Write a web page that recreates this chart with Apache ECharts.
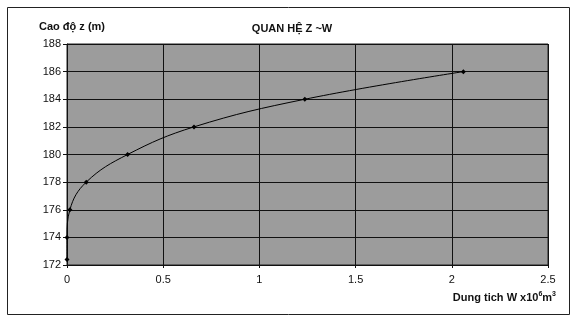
<!DOCTYPE html>
<html>
<head>
<meta charset="utf-8">
<script src="https://cdn.jsdelivr.net/npm/echarts@6/dist/echarts.min.js"></script>
<style>
  html, body { margin: 0; padding: 0; background: #fff; }
  #main { width: 575px; height: 323px; }
</style>
</head>
<body>
<div id="main"></div>
<script>
var myChart = echarts.init(document.getElementById('main'));

// dung tich W (x10^6 m3) va cao do z (m)
var volume = [0, 0, 0.015, 0.1, 0.315, 0.66, 1.236, 2.06];
var level = [172.4, 174, 176, 178, 180, 182, 184, 186];

var points = volume.map(function (w, i) { return [w, level[i]]; });

var option = {
    animation: false,
    backgroundColor: '#fff',
    textStyle: { fontFamily: 'Liberation Sans, Arial, sans-serif' },
    title: {
        text: 'QUAN HỆ Z ~W',
        left: 287,
        top: 18,
        textAlign: 'center',
        textStyle: { fontSize: 11, fontWeight: 'bold', color: '#111' }
    },
    graphic: [{
        type: 'rect',
        shape: { x: 7.5, y: 7.5, width: 562, height: 307 },
        style: { fill: 'none', stroke: '#222', lineWidth: 1 },
        silent: true
    }],
    grid: {
        left: 67, right: 27, top: 44, bottom: 58,
        show: true,
        backgroundColor: '#9c9c9c',
        borderColor: '#222',
        borderWidth: 1
    },
    xAxis: {
        type: 'value',
        min: 0, max: 2.5, interval: 0.5,
        name: '{a|Dung tich W x10}{s|6}{a|m}{s|3}',
        nameLocation: 'end',
        nameGap: 0,
        nameTextStyle: {
            align: 'right',
            verticalAlign: 'top',
            padding: [26, -8, 0, 0],
            rich: {
                a: { fontSize: 11, fontWeight: 'bold', color: '#111' },
                s: { fontSize: 7, fontWeight: 'bold', color: '#111', verticalAlign: 'top', padding: [0, 0, 6, 0] }
            }
        },
        axisLine: { lineStyle: { color: '#111' } },
        axisTick: { show: true, length: 3, lineStyle: { color: '#111' } },
        axisLabel: { fontSize: 11, color: '#111', margin: 9 },
        splitLine: { show: true, lineStyle: { color: '#111', width: 1 } }
    },
    yAxis: {
        type: 'value',
        min: 172, max: 188, interval: 2,
        name: 'Cao độ z (m)',
        nameLocation: 'end',
        nameGap: 12,
        nameTextStyle: { fontSize: 11, fontWeight: 'bold', color: '#111', align: 'left', padding: [0, 0, 0, -28] },
        axisLine: { show: true, lineStyle: { color: '#111' } },
        axisTick: { show: true, length: 4, lineStyle: { color: '#111' } },
        axisLabel: { fontSize: 11, color: '#111', margin: 6 },
        splitLine: { show: true, lineStyle: { color: '#111', width: 1 } }
    },
    series: [{
        type: 'line',
        data: points,
        smooth: 0.4,
        symbol: 'diamond',
        symbolSize: 5,
        itemStyle: { color: '#000' },
        lineStyle: { color: '#000', width: 1 }
    }]
};

myChart.setOption(option);
</script>
</body>
</html>
